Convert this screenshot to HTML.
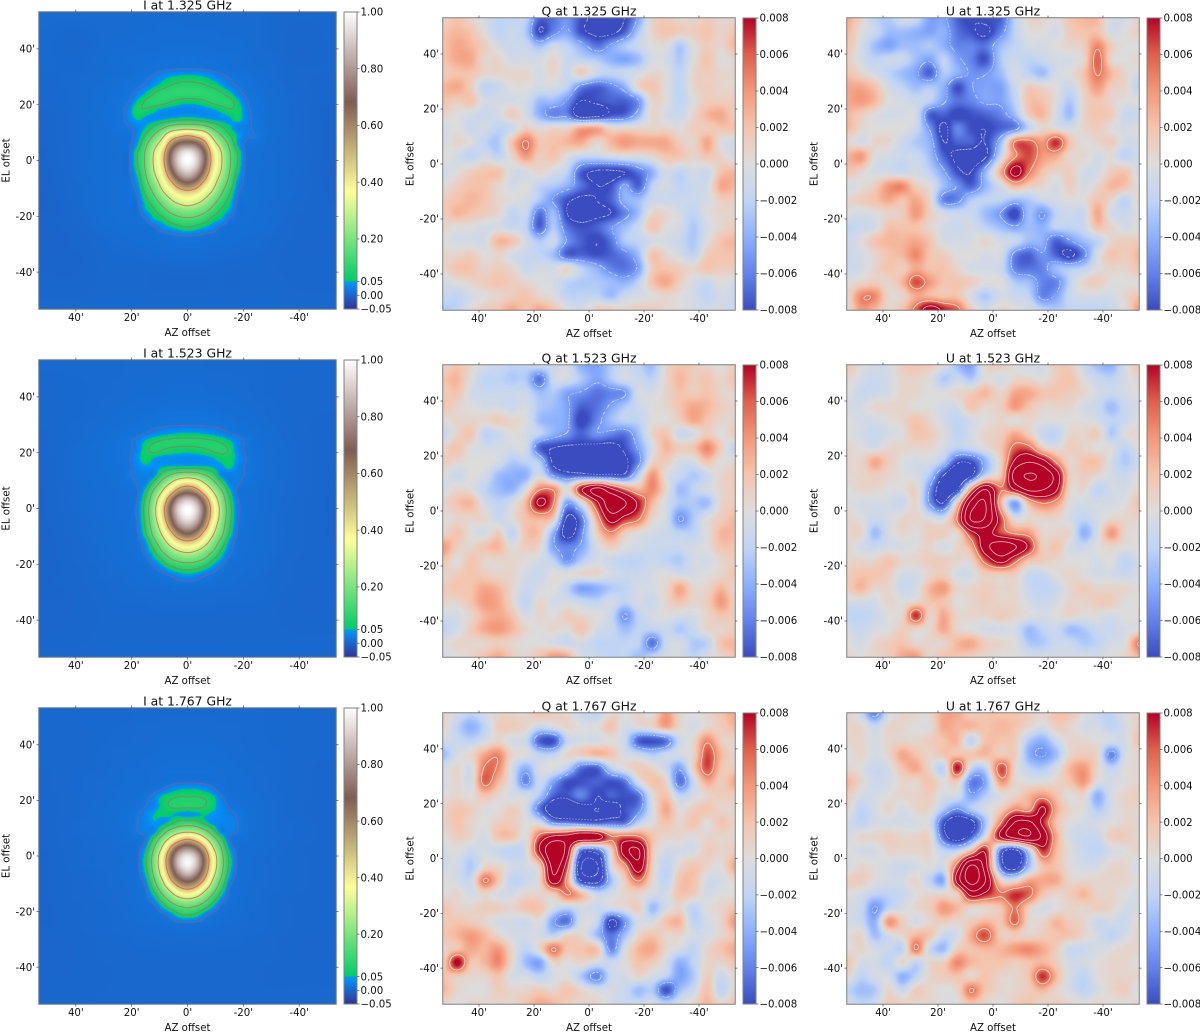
<!DOCTYPE html>
<html lang="en">
<head>
<meta charset="utf-8">
<title>Stokes I Q U beam maps</title>
<style>
html,body{margin:0;padding:0;background:#fff;}
#fig{position:relative;width:1200px;height:1032px;overflow:hidden;background:#fff;}
#fig canvas{position:absolute;display:block;}
#overlay{position:absolute;left:0;top:0;filter:blur(0.3px);}
text{font-family:"DejaVu Sans","Liberation Sans",sans-serif;fill:#111;}
</style>
</head>
<body>
<div id="fig">
<svg id="overlay" width="1200" height="1032" viewBox="0 0 1200 1032"><defs id="grads"></defs></svg>
</div>
<script>
// Sky grid nodes (arcmin) for the I maps
const azNodesI=[53,40,30,24,21,18,15,12,9,6,3,0,-3,-6,-9,-12,-15,-18,-21,-24,-30,-40,-53];
const elNodesI=[53,42,36,33,30,27,24,21,18,15,12,9,6,3,0,-3,-6,-9,-12,-15,-18,-21,-24,-27,-30,-36,-42,-53];
// Sky grid nodes (arcmin) for the Q and U maps
const nodesQU=[53,48,43,38,33,28,23,18,13,8,3,-3,-8,-13,-18,-23,-28,-33,-38,-43,-48,-53];
// Tick labels
const skyTicks=[40,20,0,-20,-40];
const cbarTicksI=[1,0.8,0.6,0.4,0.2,0.05,0,-0.05];
const cbarTicksQU=[0.008,0.006,0.004,0.002,0,-0.002,-0.004,-0.006,-0.008];
// Contour levels
const levelsI=[0.02,0.08,0.15,0.28,0.5];
const levelsQU=[-0.016,-0.012,-0.0085,-0.005,0.005,0.0085,0.012,0.016];

// Stokes I, units of 0.001
const iAt1325=[
[5,5,5,5,5,5,6,6,6,6,6,5,5,5,5,5,5,5,5,5,3,2,2],
[4,2,5,6,6,7,7,7,8,8,8,8,8,8,8,7,7,7,6,5,3,0,2],
[4,3,6,8,9,9,10,10,11,11,12,12,12,11,11,10,10,9,8,6,5,0,2],
[4,3,5,7,8,9,10,12,14,16,18,18,18,16,14,12,10,9,8,7,5,2,2],
[3,4,6,9,10,12,16,24,38,50,56,58,56,50,38,26,18,14,11,9,5,2,1],
[3,4,7,10,12,16,24,42,62,80,90,92,90,82,68,48,28,18,13,10,6,2,1],
[2,4,8,11,15,28,52,80,100,105,108,108,108,105,100,85,60,30,17,12,7,3,0],
[2,4,8,14,20,55,85,100,95,80,65,58,62,72,88,98,95,58,24,14,8,3,0],
[1,4,9,15,32,75,75,58,42,36,32,30,32,36,44,58,75,72,28,15,8,3,-2],
[0,4,9,14,30,55,42,38,42,52,60,65,60,52,42,40,45,65,32,16,8,3,-2],
[0,4,8,14,18,30,50,85,130,180,205,215,205,180,130,85,55,30,24,17,8,3,-2],
[0,4,8,10,14,32,85,155,245,380,450,490,450,380,245,155,85,48,25,20,8,3,-2],
[0,4,8,10,14,45,130,230,345,560,700,730,700,560,345,230,130,45,16,13,7,3,-2],
[-1,4,8,9,15,75,160,285,430,690,880,955,880,690,430,285,160,75,15,10,7,3,-2],
[-1,4,8,9,15,80,165,295,450,720,930,1000,930,720,450,295,165,80,15,10,7,3,-2],
[-2,4,8,9,14,70,158,285,420,665,870,940,870,665,420,285,158,70,14,10,7,3,-3],
[-2,4,8,9,13,50,140,250,370,555,735,810,735,555,370,250,140,50,13,9,7,3,-2],
[-2,3,8,9,13,35,115,200,315,425,555,610,555,425,315,200,115,35,13,9,7,3,-2],
[-3,3,8,9,12,22,85,155,250,330,400,425,400,330,250,155,85,22,12,9,7,3,-1],
[-3,3,8,9,11,15,60,110,178,250,300,325,300,250,178,110,60,15,11,9,6,2,-1],
[-3,2,8,9,10,11,45,72,120,170,200,215,200,170,120,72,45,11,10,9,6,2,0],
[-2,2,7,9,9,10,18,50,65,105,130,138,130,105,65,50,18,10,9,8,6,1,0],
[-2,1,6,8,8,8,9,15,35,50,65,78,65,50,35,15,9,8,8,8,5,1,0],
[-2,0,4,6,7,7,8,9,11,14,19,20,19,14,11,9,8,7,7,6,4,1,0],
[-1,0,3,5,5,6,7,8,9,10,10,10,10,10,9,8,7,6,5,5,3,0,0],
[-1,-1,2,3,3,3,4,4,4,5,5,5,5,5,4,4,3,3,3,3,2,0,1],
[0,0,2,2,2,2,2,1,1,1,1,1,1,1,2,2,1,1,2,2,2,1,1],
[2,2,3,3,3,3,3,3,3,3,3,3,3,3,3,3,3,3,3,3,3,2,2]];
const iAt1523=[
[4,4,4,4,5,5,5,5,5,5,5,5,5,4,4,4,4,4,4,4,3,3,2],
[2,3,4,5,5,6,6,6,6,7,7,7,7,7,6,6,6,5,5,4,3,2,2],
[2,3,5,6,7,7,8,8,9,10,10,10,10,10,9,8,7,7,6,5,4,2,2],
[2,3,5,7,8,9,10,11,12,13,13,13,13,13,12,11,9,8,7,6,4,2,1],
[2,4,6,8,10,11,13,15,16,17,18,18,18,17,16,15,13,11,9,7,5,2,1],
[1,4,7,10,12,14,20,30,38,45,50,52,50,46,40,30,20,14,11,9,6,2,1],
[1,4,8,12,17,28,55,75,85,90,92,92,92,90,85,75,55,30,18,11,6,3,0],
[1,5,9,12,16,30,70,90,80,72,66,65,68,75,85,92,75,32,16,11,7,3,0],
[0,5,9,12,18,40,65,48,40,38,36,35,36,40,48,62,65,40,20,12,7,3,0],
[0,5,9,11,16,32,45,40,48,54,58,58,58,54,48,42,60,30,18,11,7,3,-1],
[0,5,8,11,18,25,25,35,105,155,195,210,195,155,105,35,25,25,18,11,7,3,-1],
[0,4,8,10,13,22,30,100,190,290,390,430,390,290,190,100,30,22,14,10,6,3,-1],
[-1,4,7,9,10,16,65,170,290,440,590,650,590,440,290,170,65,16,10,9,6,3,-1],
[-1,4,7,9,11,22,90,220,385,615,820,895,820,615,385,220,90,22,11,9,6,2,-1],
[-1,4,7,9,10,26,105,245,440,700,930,1000,930,700,440,245,105,26,10,9,6,2,-1],
[-1,3,6,9,10,25,100,240,425,675,895,970,895,675,425,240,100,25,10,9,5,2,-1],
[-1,3,6,8,10,20,90,210,365,590,785,860,785,590,365,210,90,20,10,8,5,2,-1],
[-2,3,6,8,10,17,75,178,300,455,615,680,615,455,300,178,75,17,10,8,5,2,-1],
[-2,2,6,8,9,12,40,125,225,340,435,475,435,340,225,125,40,12,9,8,5,2,0],
[-2,2,5,8,9,11,30,78,160,230,290,315,290,230,160,78,30,11,9,7,5,2,0],
[-2,2,5,7,8,10,14,45,90,150,185,200,185,150,90,45,14,10,8,7,4,1,0],
[-2,1,4,6,7,8,10,18,40,72,95,105,95,72,40,18,10,8,7,6,4,1,0],
[-1,1,4,5,6,7,8,10,14,22,35,42,35,22,14,10,8,7,6,5,3,1,0],
[-1,1,3,4,5,6,7,8,9,11,13,14,13,11,9,8,7,6,5,4,3,1,0],
[-1,0,3,4,4,5,5,5,6,6,7,7,7,6,6,5,5,5,4,4,3,0,0],
[0,0,2,3,3,3,3,4,4,4,4,4,4,4,4,3,3,3,3,3,2,0,0],
[0,0,2,2,2,2,2,2,2,2,2,2,2,2,2,2,2,2,2,2,2,1,1],
[2,2,3,3,3,3,3,3,3,3,3,3,3,3,3,3,3,3,3,3,3,3,3]];
const iAt1767=[
[3,3,3,3,3,4,4,4,4,4,4,4,4,4,4,4,4,4,4,4,3,3,2],
[2,2,3,4,4,5,5,5,6,6,6,6,6,6,6,5,5,5,4,4,3,2,2],
[2,2,4,5,5,6,6,7,7,8,8,8,8,8,7,7,6,6,5,4,4,2,2],
[2,2,4,5,6,6,7,8,8,9,9,9,9,9,8,8,7,6,6,5,4,2,1],
[1,3,4,6,7,7,8,9,10,11,11,11,11,11,10,9,8,7,6,5,4,2,1],
[1,3,5,6,7,8,8,9,10,11,12,13,12,11,10,9,8,7,7,6,4,2,1],
[1,3,5,7,8,8,9,12,20,35,48,50,50,42,25,12,9,8,8,6,4,2,1],
[0,3,5,7,8,9,15,30,58,75,82,82,82,78,60,25,12,9,8,7,5,2,1],
[0,3,6,8,9,12,20,32,60,85,90,90,90,82,60,35,16,11,9,8,5,2,0],
[0,3,6,9,12,18,30,50,58,52,45,40,45,52,45,35,26,18,12,9,5,2,0],
[0,4,6,9,12,20,30,48,40,65,100,110,100,65,40,32,30,20,12,9,5,3,0],
[0,4,6,8,11,20,28,30,100,175,230,250,230,175,100,30,28,20,12,9,5,3,0],
[0,3,5,8,10,12,20,95,200,325,445,500,445,325,200,95,20,12,10,8,5,3,0],
[0,3,5,7,8,11,42,148,295,510,685,755,685,510,295,148,42,11,8,7,5,2,0],
[-1,3,5,6,8,12,68,185,375,635,865,950,865,635,375,185,68,12,8,6,4,2,0],
[-1,3,5,6,8,12,72,190,385,650,895,985,895,650,385,190,72,12,8,6,4,2,0],
[-1,2,4,6,8,12,58,172,345,585,790,885,790,585,345,172,58,12,8,6,4,2,0],
[-1,2,4,6,7,11,35,135,270,470,630,695,630,470,270,135,35,11,7,6,4,2,0],
[-1,2,4,5,7,10,18,92,195,315,445,495,445,315,195,92,18,10,7,5,4,2,0],
[-1,2,4,5,6,9,14,45,120,200,270,300,270,200,120,45,14,9,6,5,3,1,0],
[-1,1,3,5,6,8,10,16,55,110,152,170,152,110,55,16,10,8,6,5,3,1,0],
[-1,1,3,4,5,7,8,10,15,35,72,85,72,35,15,10,8,7,5,4,3,1,0],
[-1,1,3,4,5,6,7,8,10,12,16,18,16,12,10,8,7,6,5,4,3,1,0],
[0,1,3,4,4,5,5,6,7,7,8,9,8,7,7,6,5,5,4,4,3,1,0],
[0,0,2,3,3,4,4,4,5,5,5,5,5,5,5,4,4,4,3,3,2,0,0],
[0,0,2,2,2,3,3,3,3,3,3,3,3,3,3,3,3,3,2,2,2,0,0],
[0,0,1,2,2,2,2,2,2,2,2,2,2,2,2,2,2,2,2,2,1,1,1],
[1,1,2,2,2,2,2,2,2,2,2,2,2,2,2,2,2,2,2,2,2,2,2]];

// Stokes Q and U, units of 0.00013
const qAt1325=[
[5,15,5,-5,-15,-15,-15,-55,-50,-40,-60,-70,-70,-65,-35,5,10,5,5,10,5,5],
[15,20,15,0,-15,-10,-20,-65,-45,-35,-60,-70,-70,-55,-20,5,15,10,10,15,5,15],
[15,25,20,10,-5,-10,-10,-25,-10,-15,-30,-50,-35,-20,-10,0,0,-20,0,10,5,20],
[15,25,25,5,5,-5,-5,-5,5,-10,-15,-20,-30,-35,-25,-5,-5,-20,0,15,0,5],
[10,15,15,5,5,5,5,-5,5,-10,10,-10,-15,-10,-5,5,0,-15,5,10,5,5],
[20,25,10,-15,-10,0,0,-5,-5,-15,-45,-55,-45,-30,5,15,0,-15,5,10,5,5],
[15,10,15,-5,-5,-5,-5,-25,-25,-40,-65,-60,-55,-55,-40,5,0,-15,0,10,10,10],
[5,0,-5,-10,-5,10,-5,-30,-45,-45,-80,-75,-60,-55,-30,5,-5,-10,5,20,25,10],
[-5,0,-10,-5,-15,-10,10,0,5,5,25,25,5,5,5,5,5,0,10,10,15,15],
[-5,5,0,-15,-20,15,40,15,15,20,25,5,20,30,25,25,25,10,5,25,0,-5],
[0,-5,-15,-5,-15,5,30,10,15,0,-10,-10,-5,0,0,5,15,15,5,15,5,-5],
[-5,0,10,15,15,-5,-5,5,-5,-15,-55,-70,-70,-65,-50,-30,-5,-15,-5,-10,15,20],
[0,10,15,15,5,-5,0,-15,-20,-30,-50,-65,-60,-35,-55,-15,-5,-15,-10,-5,25,20],
[10,15,20,15,5,0,-5,-20,-40,-60,-70,-65,-55,-30,-25,-10,-10,-10,-10,-5,10,10],
[10,20,15,10,5,-15,-10,-50,-25,-65,-75,-70,-65,-45,-25,5,5,-5,-15,0,5,5],
[5,0,0,-5,-5,-10,-15,-55,-20,-50,-60,-55,-40,-25,-10,15,0,-5,-20,-5,5,10],
[0,-5,-5,-5,20,15,-5,-20,-10,-40,-55,-65,-50,-20,-15,-5,-5,-10,-20,0,15,20],
[5,5,10,0,5,-5,-10,-15,-25,-55,-55,-60,-55,-45,-25,15,5,-5,-15,10,15,15],
[5,15,15,5,10,5,-10,-5,-5,5,-15,-30,-45,-50,-35,10,15,10,5,15,10,10],
[-5,0,5,10,15,10,5,0,-5,-15,-20,-20,-25,-30,-15,15,25,10,-5,-10,0,-5],
[-10,-15,-5,0,5,10,15,5,0,-15,-15,-15,-25,-10,-5,0,5,0,-5,-15,-5,-10],
[-20,-15,0,10,15,25,15,25,15,0,-5,10,10,5,10,10,5,0,-5,-5,-5,-10]];
const uAt1325=[
[25,5,-15,-20,-5,-10,-35,-35,-55,-65,-60,-55,-15,5,5,0,15,20,20,-5,-5,5],
[20,0,-10,-25,-25,-30,-35,-30,-50,-60,-70,-45,-15,0,0,-5,10,15,15,-5,0,10],
[15,-5,-25,-35,-25,-25,-20,-30,-45,-45,-50,-25,-15,-5,-5,0,5,10,35,10,0,0],
[10,-5,-15,-10,-10,-25,-35,-15,-35,-45,-60,-20,-10,-15,-10,-5,-5,5,45,5,0,5],
[15,5,-5,-15,-25,-35,-55,-20,-30,-40,-40,-25,-5,-15,-25,-5,0,15,40,20,5,-5],
[25,25,15,-5,-15,-25,-20,-30,-60,-40,-35,-35,-10,10,5,0,-10,10,30,10,5,-15],
[25,30,20,0,-5,-10,-15,-35,-50,-45,-35,-35,-15,15,15,0,-20,5,15,5,0,0],
[20,10,0,-5,-5,-5,-55,-55,-65,-60,-55,-45,-25,10,20,-5,-25,5,15,10,-10,-10],
[20,5,0,0,0,-10,-40,-70,-45,-60,-65,-55,-45,-15,5,0,-5,5,10,0,-5,0],
[5,-5,5,5,-10,-20,-30,-65,-55,-55,-65,-25,40,45,30,55,15,0,5,10,-5,-5],
[20,30,0,-5,-10,-10,-25,-55,-70,-75,-70,-10,35,50,30,25,5,5,-5,0,-15,-5],
[15,5,-5,-5,-10,-5,-15,-35,-60,-65,-30,25,75,40,15,5,10,-5,-5,10,15,-5],
[-5,0,10,30,35,10,0,-25,-40,-55,-30,-5,20,10,5,-5,10,-5,5,20,15,0],
[5,10,15,25,15,25,5,-45,-45,-20,-15,-15,-25,-20,-10,-5,0,0,15,5,-15,5],
[0,-5,0,5,10,30,10,-5,-10,-10,-25,-40,-65,-25,-40,-15,-10,-10,25,-5,-10,0],
[-15,-10,-5,15,15,15,5,-5,-10,-5,-15,-25,-35,-25,-30,-15,-15,-10,15,5,-5,0],
[-10,0,15,20,20,25,15,-5,-5,-5,5,-5,-10,-25,-30,-55,-40,-25,-15,5,10,10],
[-10,-5,5,15,20,35,15,10,0,0,-5,-5,-45,-55,-40,-55,-70,-45,-5,15,10,20],
[-10,-5,5,15,10,25,15,15,5,-5,-5,-10,-45,-50,-45,-25,-20,-15,0,5,5,15],
[0,5,10,5,20,50,30,15,15,10,0,0,-20,-25,-45,-45,-15,5,10,0,0,0],
[5,35,35,5,5,25,20,15,15,-5,-20,-5,-10,-15,-45,-35,-10,-5,-5,-5,5,15],
[0,30,20,5,15,45,80,60,45,10,-5,5,0,-5,-15,-20,-15,-15,-15,-10,0,30]];
const qAt1523=[
[5,15,5,-5,-10,-15,-15,-10,-10,-5,-30,-35,-20,-10,-15,-25,5,15,10,5,0,10],
[15,20,0,-15,-15,-20,-20,-50,-10,-5,-20,-35,-20,-5,-10,-15,5,20,10,15,5,15],
[10,15,-5,-10,-10,-10,-10,-25,-20,-35,-40,-50,-45,-40,-5,-5,5,15,10,15,5,5],
[15,5,0,-5,-5,-10,-5,-20,-25,-35,-55,-50,-35,-20,-10,0,5,15,25,20,10,5],
[0,5,5,5,10,5,0,-25,-30,-35,-65,-45,-25,-15,-15,0,0,10,25,15,5,5],
[-10,5,15,-15,-10,0,-5,-15,-30,-40,-55,-40,-45,-50,-25,5,15,-10,-5,10,0,10],
[5,15,0,-5,-5,-5,-5,-55,-65,-70,-70,-75,-75,-60,-35,-5,20,10,15,35,10,-15],
[10,5,0,0,-5,-20,-15,-20,-70,-85,-90,-90,-85,-70,-45,5,10,-5,-5,15,0,5],
[0,-10,0,-5,-25,-30,-30,-5,-40,-55,-55,-60,-60,-60,-15,30,0,-10,-20,-10,5,10],
[-5,5,0,-15,-25,-30,-5,35,35,0,60,100,70,40,20,35,5,-25,-15,-5,5,10],
[5,15,20,-5,-15,-5,20,70,40,-35,-5,60,110,95,60,20,-5,-20,-20,-25,5,10],
[0,5,5,5,-10,0,15,20,10,-70,-50,25,75,55,40,5,-5,-40,-20,0,10,20],
[5,15,0,-5,10,-15,15,15,-30,-75,-45,10,35,10,0,-5,-10,-15,-15,0,20,20],
[30,10,5,15,20,0,10,5,-35,-45,-35,-5,10,0,-5,-10,-10,-10,-5,0,15,15],
[15,0,15,5,5,5,0,-5,-15,-40,-20,-5,-10,-15,-15,-10,-15,-20,-5,-5,5,10],
[5,10,15,10,5,5,-5,-10,0,0,5,5,-5,-10,-10,-5,0,-5,-5,0,5,15],
[10,15,15,25,20,5,-10,-5,0,-15,-35,-30,-20,-15,-5,-5,5,25,5,5,20,5],
[5,5,15,30,25,5,-15,5,-5,-5,-10,-15,-5,-15,-5,-10,5,15,5,10,30,10],
[-5,-5,5,20,25,15,-5,5,0,10,5,0,-10,-40,-15,-5,0,-5,-5,5,15,10],
[-15,-5,10,25,30,20,5,0,5,0,15,-5,-10,-25,-15,-15,-10,-20,-10,5,5,10],
[0,5,5,5,10,5,0,0,-5,-10,-5,-15,-15,-15,-15,-50,-10,-5,-20,-15,15,20],
[-5,0,5,15,25,10,5,15,30,25,-5,-10,-15,-15,-25,-15,-5,-5,-15,-5,5,15]];
const uAt1523=[
[15,0,-5,-5,10,15,10,0,-25,-35,5,10,0,-5,-5,10,10,-10,-25,-30,-5,15],
[5,-5,-10,-5,5,5,0,-20,-10,-20,0,-5,5,5,0,10,15,0,-10,-15,-5,5],
[0,-10,-10,-5,5,5,0,0,5,10,20,5,25,25,15,15,10,5,-5,-10,-5,0],
[-5,-5,5,5,5,0,0,-5,-5,15,5,10,30,15,5,5,5,-5,-10,-25,-10,-5],
[0,-5,-5,0,5,15,5,-5,-15,-5,0,5,0,5,0,0,0,0,-5,-15,-10,0],
[0,-5,-10,-5,0,15,10,0,-15,-5,5,10,25,10,-10,-15,5,5,10,-20,0,5],
[5,0,-5,5,5,5,5,-5,-15,-10,0,15,45,45,10,0,10,5,0,0,-15,0],
[5,5,25,10,0,-5,-5,-20,-60,-60,-30,10,70,90,75,35,5,15,15,-5,-20,-10],
[5,5,10,5,0,-5,-20,-65,-90,-70,-15,15,105,125,115,80,10,10,5,-5,-10,0],
[0,5,5,0,0,5,-40,-85,-70,30,90,40,70,100,95,70,5,5,-15,-5,-5,5],
[0,-5,-5,-5,-10,5,-40,-65,10,100,125,20,-35,20,40,30,0,-5,-5,-5,0,15],
[5,0,-10,-5,5,5,0,-5,40,125,120,50,0,5,5,5,-5,-15,-5,5,5,5],
[5,5,-25,-5,5,0,10,10,5,55,75,50,35,30,5,5,5,-30,-5,30,5,0],
[5,-5,-10,-5,-5,0,5,-5,5,25,80,110,95,60,10,15,-5,-10,0,5,0,0],
[5,5,5,15,5,5,10,10,5,5,45,75,45,15,10,5,0,0,-5,0,-15,-5],
[10,15,15,10,-5,-5,5,10,-5,-5,10,10,10,-10,-10,0,5,0,-5,-5,-10,-5],
[10,20,5,5,-10,-5,20,30,5,5,10,5,5,-10,-15,-10,5,10,5,5,5,0],
[-5,-5,-5,5,0,5,15,15,0,5,10,5,5,-5,-10,-5,5,5,10,10,0,0],
[-15,-15,-10,0,5,55,5,25,5,5,5,10,5,0,-5,0,5,0,0,-5,0,0],
[-5,-10,-5,0,10,5,5,25,5,0,-5,-5,-5,-25,-15,-10,-25,-20,-10,-10,-5,0],
[0,-5,5,10,15,5,5,5,20,25,10,5,0,-20,-20,-10,-10,-20,-15,-5,0,40],
[5,0,5,10,25,30,5,15,15,10,5,0,0,-5,-5,-5,-5,-5,-5,0,5,20]];
const qAt1767=[
[5,-5,-15,-5,5,5,5,15,10,5,-10,-15,5,0,5,0,30,5,0,5,15,25],
[5,-15,-30,-15,10,10,5,-10,-5,5,0,0,15,-5,0,5,25,5,-5,5,10,20],
[-5,-10,-15,-5,5,-5,-10,-55,-60,-15,-5,-5,0,-10,-55,-60,-50,-10,5,35,10,5],
[-25,-5,5,25,35,5,0,-15,-15,5,10,20,15,-5,-10,-20,-10,-5,5,50,20,5],
[-5,5,-5,40,35,-5,-30,-5,0,-15,-50,-55,-15,0,10,5,-10,-35,10,50,15,10],
[-5,5,-5,45,20,-5,-45,-10,-35,-60,-60,-55,-60,-50,-5,15,5,-50,-10,25,10,25],
[0,5,0,15,5,-5,-5,-20,-55,-60,-45,-65,-55,-60,-50,0,15,-15,-5,5,10,10],
[5,15,10,0,0,10,-5,-50,-80,-85,-75,-65,-75,-60,-45,-5,25,0,10,15,5,5],
[5,15,5,0,10,10,0,-5,-40,-45,-50,-55,-50,-50,-15,0,15,5,15,0,15,5],
[0,10,5,-5,15,15,0,45,70,75,85,80,40,45,40,15,5,5,0,5,5,5],
[-5,0,-10,-5,-10,-15,-5,65,115,80,-45,-50,5,80,95,15,-5,-5,-5,10,5,10],
[-5,-5,-20,5,5,-5,-5,10,100,50,-90,-95,-5,30,80,10,-15,5,15,5,0,25],
[0,-5,-10,40,15,-15,-10,5,80,30,-65,-75,-25,10,40,5,-15,15,15,-5,-5,5],
[0,5,-5,5,-5,-5,5,5,10,40,20,-10,-5,5,5,-5,-5,15,10,-5,0,0],
[15,5,5,10,10,5,15,15,-5,-15,-5,-10,-5,0,10,-25,-5,5,-15,0,5,15],
[10,15,10,5,-5,-5,-10,0,-35,-50,-5,-10,-70,-40,-5,-5,15,20,-15,-5,5,30],
[15,20,30,20,5,-5,-5,-5,-15,5,5,-25,-50,-25,5,15,5,5,-5,-5,5,15],
[5,15,25,20,30,5,-15,5,40,15,15,15,-45,-5,20,25,5,-5,-15,5,15,25],
[10,65,15,20,35,5,-25,-35,5,0,5,-5,-10,0,15,10,-5,-30,-15,5,5,15],
[15,10,5,5,15,-5,-5,-15,-5,0,-20,-45,-10,-5,5,-5,-15,-35,-20,10,-10,5],
[20,5,0,0,10,5,5,10,5,15,5,-5,-5,-10,-25,-20,-60,-25,-10,15,-15,5],
[5,0,5,5,5,5,15,25,20,10,5,5,-5,-10,-10,-5,-15,-5,5,20,5,15]];
const uAt1767=[
[5,-10,-45,-5,5,5,5,25,25,10,15,15,15,10,5,15,15,0,-10,-15,0,5],
[5,5,-10,5,5,0,0,25,20,20,15,20,15,5,-5,10,5,-5,-5,-15,-5,10],
[5,5,-5,5,5,5,10,15,20,-15,15,15,10,-20,-30,-10,5,5,0,-5,-5,15],
[0,5,-5,5,25,15,5,15,15,15,20,10,10,-30,-40,-25,5,10,5,-45,-5,5],
[5,0,-10,-5,15,25,5,-15,60,-10,-15,50,5,-15,-20,-5,20,30,5,-15,0,5],
[20,5,-10,-5,5,5,15,0,10,-45,-35,30,5,0,0,5,15,30,0,-5,0,5],
[10,-5,-5,0,5,5,10,-5,-5,-35,-20,0,5,20,30,15,0,5,-30,-5,5,10],
[5,-15,-5,5,-5,5,5,-20,-40,-20,-5,10,35,30,70,25,5,0,-20,-5,5,5],
[-5,-15,-5,-5,-5,-5,-5,-60,-85,-75,-25,40,95,100,60,15,0,-5,-5,0,5,5],
[-5,5,5,10,5,5,5,-55,-80,-55,-5,70,105,120,85,25,-5,-10,-10,10,10,5],
[0,-5,-5,5,5,5,5,-15,-15,15,60,-50,-70,-15,55,20,0,-10,-15,-5,0,5],
[-5,5,0,-5,-10,-5,0,-5,50,130,80,-50,-75,-25,15,15,0,-5,-5,5,5,-5],
[10,10,0,-5,-5,5,-15,-30,75,135,95,5,0,25,25,25,5,5,5,5,5,0],
[0,-5,-15,-15,-10,0,5,5,10,75,60,40,55,45,15,5,10,20,5,5,0,-5],
[-5,-10,-40,-15,-5,5,10,30,20,5,5,15,40,10,-5,0,5,5,10,5,-5,-5],
[-5,-10,-30,30,10,-5,5,10,5,10,20,15,45,5,5,20,10,5,-10,-5,-10,5],
[0,5,-25,-5,5,20,15,-10,-5,25,50,10,10,5,10,15,15,5,-5,-15,-5,5],
[0,5,-5,-10,-15,40,-10,-25,10,15,20,20,30,35,25,10,-10,-10,-5,0,5,5],
[15,-5,-5,-15,5,-15,5,10,35,20,15,15,10,15,20,10,-5,-5,0,5,5,0],
[5,-15,-5,-5,-30,-15,5,10,15,5,15,5,5,15,55,20,-5,-15,0,5,5,5],
[-15,-25,-20,5,-10,10,5,0,5,40,15,5,5,10,20,5,-5,-15,-5,5,10,-5],
[-5,-15,-10,10,10,5,5,0,0,15,5,0,10,15,5,10,5,0,5,0,0,5]];

// Figure layout
const colX=[39,443,847];
const colW=[297,292,292];
const rowY=[[12,360,708],[18,365,713],[18,365,713]];
const rowH=[[297,297,296],[292,292,291],[292,292,291]];
const panels=[
{id:'i-1325',title:'I at 1.325 GHz',kind:'I',c:0,r:0,data:iAt1325},
{id:'q-1325',title:'Q at 1.325 GHz',kind:'QU',c:1,r:0,data:qAt1325},
{id:'u-1325',title:'U at 1.325 GHz',kind:'QU',c:2,r:0,data:uAt1325},
{id:'i-1523',title:'I at 1.523 GHz',kind:'I',c:0,r:1,data:iAt1523},
{id:'q-1523',title:'Q at 1.523 GHz',kind:'QU',c:1,r:1,data:qAt1523},
{id:'u-1523',title:'U at 1.523 GHz',kind:'QU',c:2,r:1,data:uAt1523},
{id:'i-1767',title:'I at 1.767 GHz',kind:'I',c:0,r:2,data:iAt1767},
{id:'q-1767',title:'Q at 1.767 GHz',kind:'QU',c:1,r:2,data:qAt1767},
{id:'u-1767',title:'U at 1.767 GHz',kind:'QU',c:2,r:2,data:uAt1767}];

const fig=document.getElementById('fig');
const root=document.getElementById('overlay');
const grads=document.getElementById('grads');
const NS=root.namespaceURI;
const SPINE='#7f7f7f';

function mk(parent,tag,attrs,txt){
  const e=document.createElementNS(NS,tag);
  for(const k in attrs)e.setAttribute(k,attrs[k]);
  if(txt!==undefined)e.textContent=txt;
  parent.appendChild(e);
  return e;
}
function lerpAnchors(a,t){
  if(t<=a[0][0])return a[0].slice(1);
  for(let i=1;i<a.length;i++){
    if(t<=a[i][0]){
      const f=(t-a[i-1][0])/(a[i][0]-a[i-1][0]);
      return [0,1,2].map(k=>a[i-1][k+1]+(a[i][k+1]-a[i-1][k+1])*f);
    }
  }
  return a[a.length-1].slice(1);
}
const cwAnchors=[[0,58,76,192],[0.125,98,130,234],[0.25,141,176,254],[0.375,192,212,245],[0.5,221,220,220],[0.625,245,196,173],[0.75,244,152,122],[0.875,222,96,77],[1,179,3,38]];
const lowAnchors=[[-0.05,51,51,153],[0.05,0,153,255]];
const highAnchors=[[0.05,0,204,102],[0.3667,255,255,153],[0.6833,128,92,84],[1,255,255,255]];
function colorI(v){return v<0.05?lerpAnchors(lowAnchors,v):lerpAnchors(highAnchors,v);}
function colorQU(v){return lerpAnchors(cwAnchors,(v+0.008)/0.016);}
function rgb(c){return 'rgb('+c.map(x=>Math.round(x)).join(',')+')';}
function fracIndex(nodes,v){
  if(v>=nodes[0])return 0;
  for(let j=0;j<nodes.length-1;j++){
    if(v>=nodes[j+1])return j+(nodes[j]-v)/(nodes[j]-nodes[j+1]);
  }
  return nodes.length-1;
}
function taps(fi,n){
  const i=Math.min(Math.floor(fi),n-2),t=fi-i;
  const w=[-0.5*t+t*t-0.5*t*t*t,1-2.5*t*t+1.5*t*t*t,0.5*t+2*t*t-1.5*t*t*t,-0.5*t*t+0.5*t*t*t];
  const ix=[Math.max(i-1,0),i,i+1,Math.min(i+2,n-1)];
  return {w,ix};
}
function buildField(data,azN,elN,ext,w,h,unit){
  const f=new Float32Array(w*h);
  const tx=[],ty=[];
  for(let x=0;x<w;x++)tx.push(taps(fracIndex(azN,ext-2*ext*(x+0.5)/w),azN.length));
  for(let y=0;y<h;y++)ty.push(taps(fracIndex(elN,ext-2*ext*(y+0.5)/h),elN.length));
  for(let y=0;y<h;y++){
    const T=ty[y];
    for(let x=0;x<w;x++){
      const S=tx[x];let s=0;
      for(let a=0;a<4;a++){
        const row=data[T.ix[a]];
        for(let b=0;b<4;b++)s+=T.w[a]*S.w[b]*(row[S.ix[b]]||0);
      }
      f[y*w+x]=s*unit;
    }
  }
  return f;
}
function contourPath(f,w,h,level,ox,oy,dashed){
  let d='';
  for(let y=0;y<h-1;y++){
    for(let x=0;x<w-1;x++){
      const a=f[y*w+x],b=f[y*w+x+1],c=f[(y+1)*w+x+1],e=f[(y+1)*w+x];
      const pts=[];
      if((a<level)!==(b<level))pts.push([x+(level-a)/(b-a),y]);
      if((b<level)!==(c<level))pts.push([x+1,y+(level-b)/(c-b)]);
      if((e<level)!==(c<level))pts.push([x+(level-e)/(c-e),y+1]);
      if((a<level)!==(e<level))pts.push([x,y+(level-a)/(e-a)]);
      for(let k=0;k+1<pts.length;k+=2){
        const p=pts[k],q=pts[k+1];
        if(dashed&&(Math.floor((p[0]+q[0])/3)+Math.floor((p[1]+q[1])/3))%2!==0)continue;
        d+='M'+(ox+p[0]+0.5).toFixed(1)+' '+(oy+p[1]+0.5).toFixed(1)+'L'+(ox+q[0]+0.5).toFixed(1)+' '+(oy+q[1]+0.5).toFixed(1);
      }
    }
  }
  return d;
}
const contourColorsI=['#7f5a9e','#9a7a5c','#c4705a','#d96f58','#ee5c40'];

panels.forEach(function(p){
  const isI=p.kind==='I';
  const x0=colX[p.c],w=colW[p.c],y0=rowY[p.c][p.r],h=rowH[p.c][p.r];
  const ext=isI?53.2:53.1;
  const azN=isI?azNodesI:nodesQU,elN=isI?elNodesI:nodesQU;
  const field=buildField(p.data,azN,elN,ext,w,h,isI?0.001:0.00013);
  const sx=function(az){return x0+w*(ext-az)/(2*ext);};
  const sy=function(el){return y0+h*(ext-el)/(2*ext);};

  // heatmap
  const cv=document.createElement('canvas');
  cv.width=w;cv.height=h;
  cv.style.left=x0+'px';cv.style.top=y0+'px';
  
  
  fig.insertBefore(cv,root);
  const ctx=cv.getContext('2d');
  const img=ctx.createImageData(w,h);
  const cmap=isI?colorI:colorQU;
  for(let i=0;i<w*h;i++){
    const c=cmap(field[i]);
    img.data[i*4]=c[0];img.data[i*4+1]=c[1];img.data[i*4+2]=c[2];img.data[i*4+3]=255;
  }
  ctx.putImageData(img,0,0);

  const g=mk(root,'g',{});
  
  

  // contours
  const levels=isI?levelsI:levelsQU;
  levels.forEach(function(lv,i){
    const d=contourPath(field,w,h,lv,x0,y0,lv<0);
    if(!d)return;
    const path=mk(g,'path',{d:d,fill:'none',stroke:isI?contourColorsI[i]:'#ffffff','stroke-width':isI?1:0.85,'stroke-opacity':isI?0.9:0.7});
    
    
  });

  // spine
  const spine=mk(g,'rect',{x:x0-0.25,y:y0-0.25,width:w+0.5,height:h+0.5,fill:'none',stroke:SPINE,'stroke-width':1});
  
  

  // title
  const title=mk(g,'text',{x:x0+w/2,y:y0-2.6,'text-anchor':'middle','font-size':12.4},p.title);
  
  

  // ticks and tick labels
  skyTicks.forEach(function(v){
    const tx=sx(v),ty=sy(v);
    const marks='M'+tx+' '+(y0+h)+'v2.5M'+tx+' '+y0+'v-2.5M'+x0+' '+ty+'h-2.5M'+(x0+w)+' '+ty+'h2.5';
    const tick=mk(g,'path',{d:marks,stroke:'#555','stroke-width':0.7,fill:'none'});
    
    
    const lx=mk(g,'text',{x:tx,y:y0+h+12,'text-anchor':'middle','font-size':10.2},v+"'");
    
    
    const ly=mk(g,'text',{x:x0-4,y:ty+3.7,'text-anchor':'end','font-size':10.2},v+"'");
    
    
  });
  const xTitle=mk(g,'text',{x:x0+w/2,y:y0+h+27,'text-anchor':'middle','font-size':10.2},'AZ offset');
  
  
  const yx=x0-29.5,yy=y0+h/2;
  const yTitle=mk(g,'text',{x:yx,y:yy,'text-anchor':'middle','font-size':10.2,transform:'rotate(-90 '+yx+' '+yy+')'},'EL offset');
  
  

  // colorbar
  const cx=x0+w+8,cw=13;
  const lowFrac=27.5/297;
  const cbY=isI?function(v){
    return v>=0.05?y0+h*(1-lowFrac)*(1-v)/0.95:y0+h*(1-lowFrac)+h*lowFrac*(0.05-v)/0.1;
  }:function(v){return y0+h*(0.008-v)/0.016;};
  const gid='grad-'+p.id;
  const lg=mk(grads,'linearGradient',{id:gid,x1:0,y1:0,x2:0,y2:1});
  const stops=isI?[[1],[0.6833],[0.3667],[0.05,'hi'],[0.05,'lo'],[-0.05]]:cwAnchors.slice().reverse().map(a=>[a[0]*0.016-0.008]);
  stops.forEach(function(s){
    const col=isI?(s[1]==='lo'?colorI(0.0499999):colorI(s[0])):colorQU(s[0]);
    mk(lg,'stop',{offset:((cbY(s[0])-y0)/h).toFixed(4),'stop-color':rgb(col)});
  });
  const bar=mk(g,'rect',{x:cx,y:y0,width:cw,height:h,fill:'url(#'+gid+')',stroke:SPINE,'stroke-width':1});
  
  
  (isI?cbarTicksI:cbarTicksQU).forEach(function(v){
    const ty=cbY(v);
    const tk=mk(g,'path',{d:'M'+(cx+cw)+' '+ty+'h2.5',stroke:'#555','stroke-width':0.7});
    
    
    const s=(v<0?'\u2212':'')+Math.abs(v).toFixed(isI?2:3);
    const lb=mk(g,'text',{x:cx+cw+3.5,y:ty+3.7,'font-size':10.2},s);
    
    
  });
});
</script>
</body>
</html>
